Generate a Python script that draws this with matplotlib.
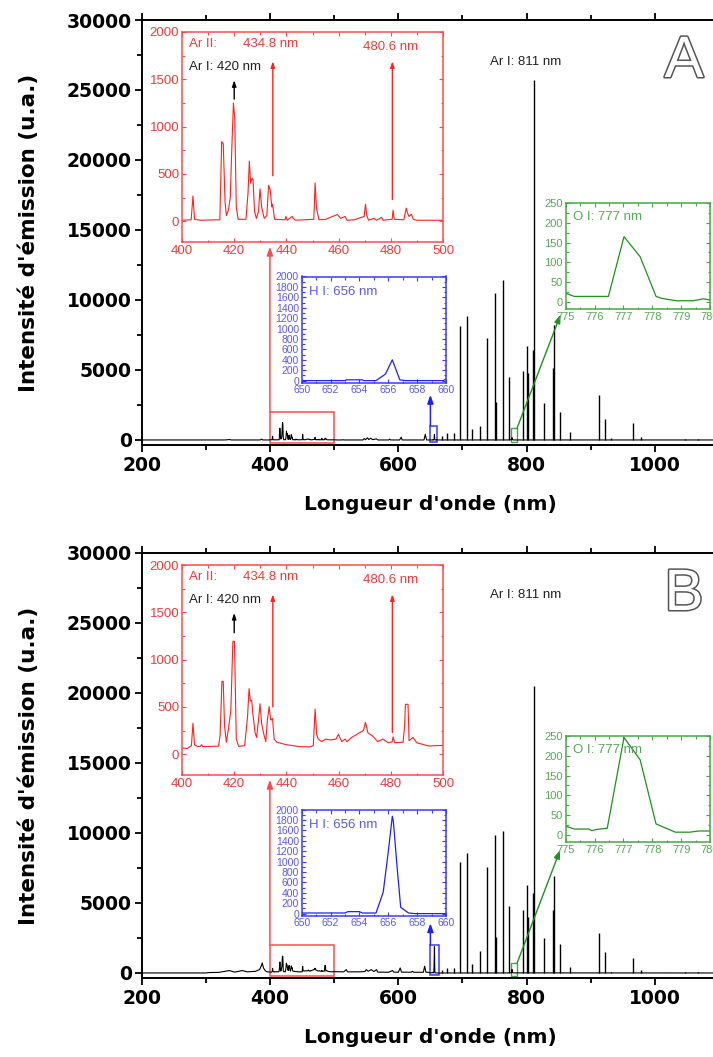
import matplotlib
matplotlib.use('Agg')
import matplotlib.pyplot as plt
import matplotlib.patheffects as pe
from matplotlib.patches import Rectangle
from matplotlib.ticker import MultipleLocator

W, H = 713, 1057

# ---------------- data ----------------
# main-spectrum background (outside the inset windows), nm / intensity
bgA_nm = [200, 330, 337, 340, 385, 387, 389, 398,
          505, 512, 513.5, 515, 545, 547, 549, 552, 554, 557, 560, 566, 568, 585, 586.5, 588,
          602, 604.5, 606, 640, 642, 644, 648,
          662, 770, 782, 1100]
bgA_int = [0, 0, 30, 0, 0, 60, 0, 0,
           0, 0, 20, 0, 0, 100, 20, 150, 30, 120, 20, 80, 0, 0, 60, 0,
           0, 200, 0, 0, 400, 0, 0,
           0, 0, 0, 0]
bgB_nm = [200, 300, 306, 320, 337, 345, 357, 365, 378, 384, 386.5, 388, 390, 393, 396, 398,
          502, 515, 519, 521, 540, 548, 550, 553, 558, 562, 566, 568, 585, 591, 593, 600,
          603, 605, 620, 622, 624, 639, 641, 643, 648,
          662, 770, 782, 1100]
bgB_int = [0, 0, 30, 40, 170, 60, 170, 80, 120, 250, 500, 715, 360, 150, 80, 70,
           90, 80, 240, 80, 80, 100, 240, 120, 240, 100, 240, 60, 50, 170, 60, 50,
           360, 60, 50, 120, 50, 50, 480, 60, 40,
           0, 0, 0, 0]

# Ar I emission lines in the main spectrum
lines_nm = [667.7, 675.3, 687.1, 696.5, 706.7, 714.7, 727.3, 738.4, 750.4, 751.5, 763.5,
            772.4, 794.8, 800.6, 801.5, 810.4, 811.5, 826.5, 840.8, 842.5, 852.1, 866.8,
            912.3, 922.4, 932.0, 965.8, 978.5, 1047.0, 1067.0]
linesA_int = [250, 520, 520, 8160, 8830, 760, 1000, 7280, 10500, 2740, 11450,
              4530, 4960, 6730, 4770, 6440, 25700, 2670, 5130, 8230, 2030, 550,
              3220, 1530, 120, 1240, 240, 50, 50]
linesB_int = [200, 382, 382, 7950, 8540, 670, 1575, 7540, 9850, 2560, 10140,
              4770, 4530, 6275, 4000, 5725, 20470, 2530, 4500, 6940, 2050, 430,
              2890, 1500, 80, 1100, 190, 40, 40]

# 400-500 nm window (red inset)
redA_nm = [400, 403.5, 404.2, 404.8, 407, 414.5, 415.2, 415.8, 416.5, 417.0, 417.8, 418.5, 419.0,
           419.7, 420.2, 420.8, 421.5, 424.5, 425.3, 425.8, 426.3, 426.8, 427.2, 427.8, 428.5,
           429.3, 429.9, 430.5, 431.5, 432.5, 433.2, 433.8, 434.4, 434.7, 435.5, 439.5, 439.8,
           440.3, 442.2, 442.6, 443.5, 450.5, 451.0, 451.5, 451.8, 452.5, 455, 459.5, 460.2,
           460.8, 462.5, 463.2, 466, 469.8, 470.3, 470.8, 471.5, 473.5, 474.5, 476.5, 477,
           480.5, 480.9, 481.3, 485, 485.9, 486.5, 487.0, 487.9, 488.6, 490, 500]
redA_int = [10, 15, 266, 20, 10, 15, 842, 820, 200, 60, 120, 250, 700,
            1249, 1100, 150, 20, 20, 300, 635, 400, 455, 440, 100, 30,
            100, 342, 150, 30, 60, 380, 330, 150, 180, 20, 15, 50,
            10, 50, 30, 10, 20, 404, 150, 100, 15, 20, 70, 50,
            30, 50, 10, 15, 50, 180, 60, 10, 30, 10, 40, 10,
            20, 117, 20, 15, 138, 80, 50, 73, 20, 10, 10]
redB_nm = [400, 402, 403.6, 404.2, 404.8, 406, 407, 407.5, 408, 414, 414.6, 415.3, 415.8, 416.3,
           417.0, 417.8, 418.7, 419.5, 420.1, 420.8, 421.7, 424.0, 425.1, 425.7, 426.2, 426.7,
           427.1, 428.0, 428.6, 429.3, 429.9, 430.5, 431.2, 432.1, 432.7, 433.4, 434.0, 434.7,
           435.3, 436.3, 440, 445, 449, 450.3, 451.0, 451.6, 452.2, 453.5, 455, 457, 459.0,
           459.9, 461.2, 462.5, 463.2, 465, 468, 469.5, 470.3, 471.2, 473, 475, 477, 479,
           480.5, 480.9, 481.5, 484.7, 485.3, 485.6, 486.6, 487.0, 488.5, 490, 494.5, 500]
redB_int = [67, 60, 90, 327, 100, 80, 83, 100, 80, 85, 200, 770, 770, 300,
            127, 267, 460, 1193, 1193, 160, 83, 90, 393, 693, 560, 570,
            443, 227, 177, 360, 533, 327, 227, 133, 360, 503, 360, 377,
            160, 127, 100, 80, 77, 90, 477, 210, 160, 133, 160, 150, 160,
            210, 133, 160, 133, 177, 227, 250, 337, 227, 193, 133, 160, 120,
            130, 183, 120, 127, 300, 527, 527, 143, 177, 120, 87, 93]

# 650-660 nm window (blue inset)
blueA_nm = [650, 653.0, 653.1, 654.2, 654.3, 655.15, 655.8, 656.28, 656.8, 657.2, 659.8, 660]
blueA_int = [0, 0, 15, 15, 0, 0, 125, 400, 15, 0, 0, 30]
blueB_nm = [650, 653.0, 653.2, 654.0, 654.2, 655.15, 655.65, 656.0, 656.28, 656.35, 656.6,
            656.86, 657.4, 657.85, 660]
blueB_int = [12, 12, 38, 38, 12, 12, 413, 1190, 1871, 1774, 930, 122, 12, 0, 0]

# 775-780 nm window (green inset)
greenA_nm = [775, 775.3, 776.48, 777.02, 777.58, 778.13, 778.33, 778.85, 779.42, 779.77, 780]
greenA_int = [21, 13, 13, 165, 114, 13, 8, 2, 2, 7, 4]
greenB_nm = [775, 775.3, 775.8, 775.9, 776.07, 776.44, 777.02, 777.58, 778.13, 778.8, 779.3,
             779.6, 780]
greenB_int = [21, 14, 14, 10, 13, 16, 247, 190, 27, 6, 6, 9, 9]

main_xticks = [200, 400, 600, 800, 1000]
main_yticks = [0, 5000, 10000, 15000, 20000, 25000, 30000]

INSET_FONT = ['Liberation Sans', 'DejaVu Sans']
RED_LINE, RED_SP, RED_TXT = '#ff2020', '#ff4a4a', '#f03a3a'
BLUE_LINE, BLUE_SP, BLUE_TXT = '#2020ff', '#3a3aff', '#5a5af0'
GRN_LINE, GRN_SP, GRN_TXT = '#209020', '#44a844', '#55a855'

fig = plt.figure(figsize=(W / 100, H / 100), dpi=100)


def frac(l, t, r, b):
    return [l / W, 1 - b / H, (r - l) / W, (b - t) / H]


def style_inset(ax, sp, tc, fs, xmaj, xmin, ymaj, ymin):
    for s in ax.spines.values():
        s.set_color(sp)
        s.set_linewidth(1.1)
    ax.xaxis.set_major_locator(MultipleLocator(xmaj))
    ax.xaxis.set_minor_locator(MultipleLocator(xmin))
    ax.yaxis.set_major_locator(MultipleLocator(ymaj))
    ax.yaxis.set_minor_locator(MultipleLocator(ymin))
    ax.tick_params(which='both', direction='in', top=True, right=True, colors=sp,
                   labelcolor=tc, labelsize=fs, pad=2, width=0.8)
    ax.tick_params(which='major', length=3)
    ax.tick_params(which='minor', length=1.8)
    for lbl in ax.get_xticklabels() + ax.get_yticklabels():
        lbl.set_family(INSET_FONT)


def panel(off, bg_nm, bg_int, line_h, red_nm, red_int, blue_nm, blue_int,
          green_nm, green_int, letter, ann):
    # merge windows into the main spectrum
    pts = sorted(list(zip(bg_nm, bg_int)) + list(zip(red_nm, red_int)) +
                 list(zip(blue_nm, blue_int)) + list(zip(green_nm, green_int)))
    x = [p[0] for p in pts]
    y = [p[1] for p in pts]

    ax = fig.add_axes(frac(141.5, 20 + off, 141.5 + 577.8, 445 + off))
    ax.plot(x, y, color='black', lw=0.8)
    ax.vlines(lines_nm, 0, line_h, color='black', lw=1.0)
    ax.set_xlim(200, 1100)
    ax.set_ylim(-360, 30000)
    ax.set_xticks(main_xticks, labels=[str(v) for v in main_xticks],
                  fontweight='bold', fontsize=13.5)
    ax.set_yticks(main_yticks, labels=[str(v) for v in main_yticks],
                  fontweight='bold', fontsize=13.5)
    ax.xaxis.set_minor_locator(MultipleLocator(100))
    ax.yaxis.set_minor_locator(MultipleLocator(2500))
    ax.tick_params(which='both', direction='out', top=True, right=True, width=1.3)
    ax.tick_params(which='major', length=5, pad=3)
    ax.tick_params(which='minor', length=3.5)
    ax.tick_params(axis='y', which='major', pad=2)
    for s in ax.spines.values():
        s.set_linewidth(1.4)
    ax.set_xlabel("Longueur d'onde (nm)", fontsize=14.5, fontweight='bold')
    ax.xaxis.set_label_coords(0.5, -0.118)
    ax.set_ylabel("Intensité d'émission (u.a.)", fontsize=15.5, fontweight='bold')
    ax.yaxis.set_label_coords(-0.178, 0.5)

    ax.text(742.8, 27000, 'Ar I: 811 nm', fontsize=9.5, color='#222222',
            family=INSET_FONT, va='center')

    # zoom rectangles and connectors
    ax.add_patch(Rectangle((400, -250), 100, 2250, fill=False, ec=RED_SP, lw=1.1))
    ax.add_patch(Rectangle(ann['blue_rect'][0], ann['blue_rect'][1], ann['blue_rect'][2],
                           fill=False, ec=BLUE_SP, lw=1.1))
    ax.add_patch(Rectangle(ann['green_rect'][0], ann['green_rect'][1], ann['green_rect'][2],
                           fill=False, ec=GRN_SP, lw=1.0))
    ax.annotate('', xy=(400, 13800), xytext=(400, 2000),
                arrowprops=dict(arrowstyle='-|>,head_length=0.5,head_width=0.18',
                                color=RED_SP, lw=1.1, shrinkA=0, shrinkB=0))
    ax.annotate('', xy=ann['blue_tip'], xytext=ann['blue_start'],
                arrowprops=dict(arrowstyle='-|>,head_length=0.5,head_width=0.18',
                                color=BLUE_LINE, lw=1.1, shrinkA=0, shrinkB=0))
    ax.annotate('', xy=ann['green_tip'], xytext=ann['green_start'],
                arrowprops=dict(arrowstyle='-|>,head_length=0.5,head_width=0.18',
                                color=GRN_LINE, lw=1.0, shrinkA=0, shrinkB=0))

    # red inset 400-500
    ar = fig.add_axes(frac(182, 32 + off, 443, 242 + off))
    ar.plot(red_nm, red_int, color=RED_LINE, lw=0.8)
    ar.set_xlim(400, 500)
    ar.set_ylim(-220, 2000)
    style_inset(ar, RED_SP, RED_TXT, 9.5, 20, 10, 500, 250)
    ar.text(402.7, 1870, 'Ar II:', color=RED_TXT, fontsize=9.5, family=INSET_FONT, va='center')
    ar.text(423.4, 1870, '434.8 nm', color=RED_TXT, fontsize=9.5, family=INSET_FONT, va='center')
    ar.text(469.3, 1840, '480.6 nm', color=RED_TXT, fontsize=9.5, family=INSET_FONT, va='center')
    ar.text(402.7, 1635, 'Ar I: 420 nm', color='#222222', fontsize=9.5, family=INSET_FONT,
            va='center')
    for (x0, y0, y1, c) in ann['inset_arrows']:
        ar.annotate('', xy=(x0, y1), xytext=(x0, y0),
                    arrowprops=dict(arrowstyle='-|>,head_length=0.35,head_width=0.12',
                                    color=c, lw=1.0, shrinkA=0, shrinkB=0))

    # blue inset 650-660
    ab = fig.add_axes(frac(301.7, 276.5 + off, 446, 382.7 + off))
    ab.plot(blue_nm, blue_int, color=BLUE_LINE, lw=0.9)
    ab.set_xlim(650, 660)
    ab.set_ylim(-40, 2000)
    style_inset(ab, BLUE_SP, BLUE_TXT, 7.5, 2, 1, 200, 100)
    ab.text(650.5, 1710, 'H I: 656 nm', color=BLUE_TXT, fontsize=9.5, family=INSET_FONT,
            va='center')

    # green inset 775-780
    ag = fig.add_axes(frac(565.7, 203.3 + off, 710, 309 + off))
    ag.plot(green_nm, green_int, color=GRN_LINE, lw=0.9)
    ag.set_xlim(775, 780)
    ag.set_ylim(-19, 250)
    style_inset(ag, GRN_SP, GRN_TXT, 8, 1, 0.5, 50, 25)
    ag.text(775.24, 216, 'O I: 777 nm', color=GRN_TXT, fontsize=9.5, family=INSET_FONT,
            va='center')

    fig.text(684 / W, 1 - (62 + off) / H, letter, fontsize=42, color='white',
             family=INSET_FONT, ha='center', va='center',
             path_effects=[pe.Stroke(linewidth=2.2, foreground='#555555'), pe.Normal()])


annA = dict(blue_rect=((650, -150), 10, 1150), green_rect=((775, -150), 10, 1000),
            blue_start=(650, 1000), blue_tip=(650, 3220),
            green_start=(785, 850), green_tip=(852.7, 8950),
            inset_arrows=[(420, 1290, 1490, 'black'), (434.8, 480, 1690, RED_LINE),
                          (480.6, 230, 1690, RED_LINE)])
annB = dict(blue_rect=((650, -150), 13, 2150), green_rect=((775, -200), 10, 900),
            blue_start=(650, 2000), blue_tip=(650, 3550),
            green_start=(785, 700), green_tip=(852, 8780),
            inset_arrows=[(420, 1284, 1493, 'black'), (434.8, 500, 1690, RED_LINE),
                          (480.6, 230, 1690, RED_LINE)])

panel(0, bgA_nm, bgA_int, linesA_int, redA_nm, redA_int, blueA_nm, blueA_int,
      greenA_nm, greenA_int, 'A', annA)
panel(533, bgB_nm, bgB_int, linesB_int, redB_nm, redB_int, blueB_nm, blueB_int,
      greenB_nm, greenB_int, 'B', annB)

fig.savefig('out.png', dpi=100)
